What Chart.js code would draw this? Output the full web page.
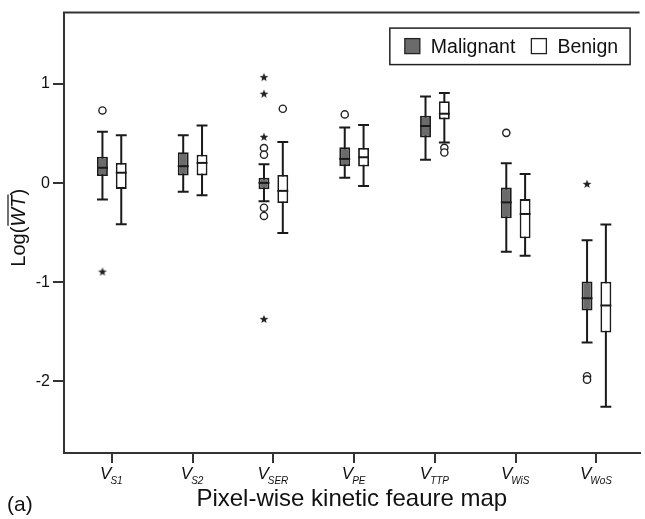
<!DOCTYPE html>
<html>
<head>
<meta charset="utf-8">
<script src="https://cdn.jsdelivr.net/npm/chart.js@4.4.1/dist/chart.umd.min.js"></script>
<style>
  html, body { margin: 0; padding: 0; background: #fff; }
  #wrap { width: 645px; height: 519px; position: relative; }
</style>
</head>
<body>
<div id="wrap"><canvas id="boxChart"></canvas></div>
<script>
const FONT = '"Liberation Sans", Arial, sans-serif';

// subscripts of the V labels on the x axis
const categories = ['S1', 'S2', 'SER', 'PE', 'TTP', 'WiS', 'WoS'];
const yTicks = [-2, -1, 0, 1];

// malignant: lower whisker, q1, median, q3, upper whisker
const malMin = [-0.165, -0.088, -0.184, 0.055, 0.237, -0.693, -1.607];
const malQ1  = [0.072, 0.078, -0.062, 0.171, 0.461, -0.354, -1.284];
const malMed = [0.155, 0.171, 0.002, 0.244, 0.576, -0.194, -1.161];
const malQ3  = [0.267, 0.311, 0.055, 0.361, 0.680, -0.045, -0.992];
const malMax = [0.517, 0.484, 0.191, 0.560, 0.875, 0.201, -0.576];

// benign
const benMin = [-0.414, -0.121, -0.503, -0.028, 0.411, -0.733, -2.255];
const benQ1  = [-0.058, 0.078, -0.201, 0.168, 0.643, -0.556, -1.507];
const benMed = [0.105, 0.204, -0.078, 0.261, 0.700, -0.311, -1.234];
const benQ3  = [0.204, 0.287, 0.082, 0.354, 0.826, -0.161, -0.995];
const benMax = [0.484, 0.580, 0.414, 0.586, 0.909, 0.092, -0.417];

// outliers (circles) and extremes (stars), per category
const malOutliers = [[0.733], [], [0.354, 0.287, -0.248, -0.331], [0.693], [], [0.507], [-1.948, -1.982]];
const benOutliers = [[], [], [0.750], [], [0.356, 0.309], [], []];
const malExtremes = [[-0.892], [], [1.069, 0.902, 0.467, -1.371], [], [], [], [-0.008]];

const CAT_PCT = 0.466;
const BAR_PCT = 0.58;
const OFF = CAT_PCT / 4; // centre of each box relative to its category

function points(lists, shift) {
  const pts = [];
  lists.forEach((vals, i) => vals.forEach(v => pts.push({ x: i + 1 + shift, y: v })));
  return pts;
}

// small filled star for extreme values
const star = document.createElement('canvas');
star.width = 10; star.height = 10;
(function () {
  const c = star.getContext('2d');
  c.beginPath();
  for (let k = 0; k < 10; k++) {
    const r = k % 2 ? 1.9 : 4.6;
    const a = -Math.PI / 2 + k * Math.PI / 5;
    c.lineTo(5 + r * Math.cos(a), 5.3 + r * Math.sin(a));
  }
  c.closePath();
  c.fillStyle = '#222';
  c.fill();
})();

const whiskers = {
  id: 'whiskers',
  beforeDatasetsDraw(chart) {
    const ctx = chart.ctx, y = chart.scales.y;
    ctx.save();
    ctx.strokeStyle = '#1a1a1a';
    ctx.lineWidth = 2;
    chart.data.datasets.forEach((ds, d) => {
      if (!ds.stats) return;
      chart.getDatasetMeta(d).data.forEach((bar, i) => {
        const half = bar.width / 2;
        const lo = y.getPixelForValue(ds.stats.min[i]);
        const hi = y.getPixelForValue(ds.stats.max[i]);
        ctx.beginPath();
        ctx.moveTo(bar.x, lo); ctx.lineTo(bar.x, hi);
        ctx.moveTo(bar.x - half, lo); ctx.lineTo(bar.x + half, lo);
        ctx.moveTo(bar.x - half, hi); ctx.lineTo(bar.x + half, hi);
        ctx.stroke();
      });
    });
    ctx.restore();
  },
  afterDatasetsDraw(chart) {
    const ctx = chart.ctx, y = chart.scales.y;
    ctx.save();
    ctx.strokeStyle = '#1a1a1a';
    ctx.lineWidth = 2;
    chart.data.datasets.forEach((ds, d) => {
      if (!ds.stats) return;
      chart.getDatasetMeta(d).data.forEach((bar, i) => {
        const m = y.getPixelForValue(ds.stats.med[i]);
        ctx.beginPath();
        ctx.moveTo(bar.x - bar.width / 2, m);
        ctx.lineTo(bar.x + bar.width / 2, m);
        ctx.stroke();
      });
    });
    ctx.restore();
  }
};

const decorations = {
  id: 'decorations',
  afterDraw(chart) {
    const ctx = chart.ctx, area = chart.chartArea, xs = chart.scales.x;
    ctx.save();

    // top frame line
    ctx.strokeStyle = '#333';
    ctx.lineWidth = 2;
    ctx.beginPath();
    ctx.moveTo(area.left - 1, area.top);
    ctx.lineTo(area.right, area.top);
    ctx.stroke();

    // x tick labels: V with subscript
    ctx.fillStyle = '#111';
    ctx.textBaseline = 'alphabetic';
    ctx.textAlign = 'left';
    xs.ticks.forEach((t, i) => {
      const px = xs.getPixelForValue(t.value);
      const sub = categories[i];
      ctx.font = 'italic 17px ' + FONT;
      const wv = ctx.measureText('V').width;
      ctx.font = 'italic 10px ' + FONT;
      const ws = ctx.measureText(sub).width;
      const x0 = px - (wv + ws) / 2;
      ctx.font = 'italic 17px ' + FONT;
      ctx.fillText('V', x0, area.bottom + 26);
      ctx.font = 'italic 10px ' + FONT;
      ctx.fillText(sub, x0 + wv - 1, area.bottom + 31);
    });

    // y title: Log(WT) with overline
    const cy = (area.top + area.bottom) / 2 - 5;
    ctx.translate(25, cy);
    ctx.rotate(-Math.PI / 2);
    ctx.font = '20px ' + FONT;
    const w1 = ctx.measureText('Log(').width;
    const w3 = ctx.measureText(')').width;
    ctx.font = 'italic 20px ' + FONT;
    const w2 = ctx.measureText('WT').width;
    let x = -(w1 + w2 + w3) / 2;
    ctx.font = '20px ' + FONT;
    ctx.fillText('Log(', x, 0);
    ctx.font = 'italic 20px ' + FONT;
    ctx.fillText('WT', x + w1, 0);
    ctx.font = '20px ' + FONT;
    ctx.fillText(')', x + w1 + w2, 0);
    ctx.strokeStyle = '#111';
    ctx.lineWidth = 1.2;
    ctx.beginPath();
    ctx.moveTo(x + w1 + 1, -17);
    ctx.lineTo(x + w1 + w2 + 1, -17);
    ctx.stroke();
    ctx.setTransform(1, 0, 0, 1, 0, 0);

    // panel letter
    ctx.font = '21px ' + FONT;
    ctx.fillText('(a)', 7, 511);

    // legend inside the plot
    const items = chart.data.datasets.filter(ds => ds.stats);
    ctx.font = '19.5px ' + FONT;
    const widths = items.map(ds => ctx.measureText(ds.label).width);
    const total = 15 + widths.reduce((s, w) => s + 26 + w, 0) + 16 * (items.length - 1) + 12;
    const right = area.right - 9.5;
    const left = right - total;
    const top = area.top + 15.5;
    ctx.strokeStyle = '#222';
    ctx.lineWidth = 1.5;
    ctx.strokeRect(left, top, total, 36.5);
    let cx = left + 15;
    items.forEach((ds, i) => {
      ctx.fillStyle = ds.backgroundColor;
      ctx.fillRect(cx, top + 10.5, 15, 15);
      ctx.strokeStyle = '#222';
      ctx.lineWidth = 1.3;
      ctx.strokeRect(cx, top + 10.5, 15, 15);
      ctx.fillStyle = '#111';
      ctx.fillText(ds.label, cx + 26, top + 25);
      cx += 26 + widths[i] + 16;
    });
    ctx.restore();
  }
};

const ctx = document.getElementById('boxChart').getContext('2d');

new Chart(ctx, {
  type: 'bar',
  data: {
    datasets: [
      {
        label: 'Malignant',
        data: categories.map((c, i) => ({ x: i + 1, y: [malQ1[i], malQ3[i]] })),
        stats: { min: malMin, med: malMed, max: malMax },
        backgroundColor: '#6b6b6b',
        borderColor: '#1a1a1a',
        borderWidth: 1.8,
        borderSkipped: false,
        categoryPercentage: CAT_PCT,
        barPercentage: BAR_PCT
      },
      {
        label: 'Benign',
        data: categories.map((c, i) => ({ x: i + 1, y: [benQ1[i], benQ3[i]] })),
        stats: { min: benMin, med: benMed, max: benMax },
        backgroundColor: '#ffffff',
        borderColor: '#1a1a1a',
        borderWidth: 1.8,
        borderSkipped: false,
        categoryPercentage: CAT_PCT,
        barPercentage: BAR_PCT
      },
      {
        type: 'scatter',
        label: 'Malignant outliers',
        data: points(malOutliers, -OFF),
        pointStyle: 'circle',
        radius: 3.6,
        backgroundColor: '#fff',
        borderColor: '#222',
        borderWidth: 1.4
      },
      {
        type: 'scatter',
        label: 'Benign outliers',
        data: points(benOutliers, OFF),
        pointStyle: 'circle',
        radius: 3.6,
        backgroundColor: '#fff',
        borderColor: '#222',
        borderWidth: 1.4
      },
      {
        type: 'scatter',
        label: 'Malignant extremes',
        data: points(malExtremes, -OFF),
        pointStyle: star
      }
    ]
  },
  options: {
    responsive: true,
    maintainAspectRatio: false,
    animation: false,
    layout: { padding: { left: 0, top: 7, right: 0, bottom: 0 } },
    plugins: {
      legend: { display: false },
      tooltip: { enabled: false }
    },
    scales: {
      x: {
        type: 'linear',
        min: 0.4076,
        max: 7.534,
        offset: false,
        afterBuildTicks: s => { s.ticks = categories.map((c, i) => ({ value: i + 1 })); },
        afterFit: s => { s.height = 66; },
        grid: { offset: false, drawOnChartArea: false, drawTicks: true, tickLength: 10, color: '#333', lineWidth: 2 },
        border: { display: true, color: '#333', width: 2 },
        ticks: { display: false },
        title: {
          display: true,
          text: 'Pixel-wise kinetic feaure map',
          color: '#111',
          font: { family: FONT, size: 24 },
          padding: { top: 0, bottom: 5 }
        }
      },
      y: {
        min: -2.722,
        max: 1.72,
        afterBuildTicks: s => { s.ticks = yTicks.map(v => ({ value: v })); },
        afterFit: s => { s.width = 64; },
        grid: { drawOnChartArea: false, drawTicks: true, tickLength: 11, color: '#333', lineWidth: 2 },
        border: { display: true, color: '#333', width: 2 },
        ticks: { color: '#111', padding: 3, font: { family: FONT, size: 16 } }
      }
    }
  },
  plugins: [whiskers, decorations]
});
</script>
</body>
</html>
